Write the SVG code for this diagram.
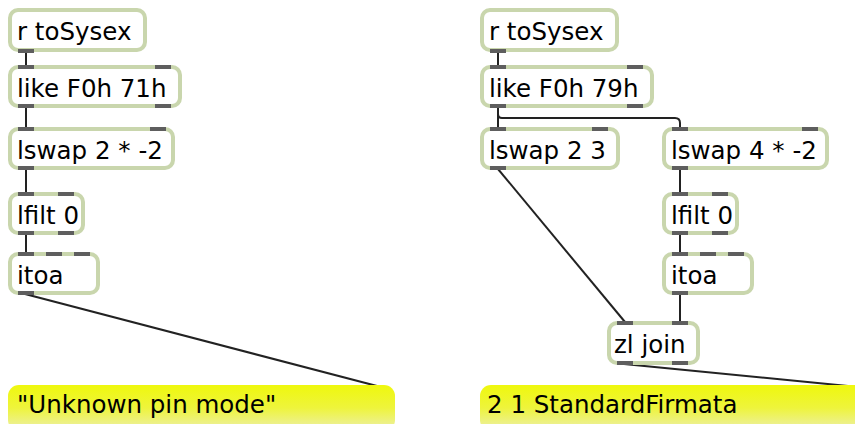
<svg xmlns="http://www.w3.org/2000/svg" width="855" height="424" viewBox="0 0 855 424">
<defs>
<style>
.box{fill:#ffffff;stroke:#c9d6ad;stroke-width:4}
.port{fill:#5e5e5e}
.txt{font-family:"DejaVu Sans",Verdana,sans-serif;font-size:24.5px;fill:#000000}
.msg{fill:url(#yel)}
.cord{stroke:#222222;stroke-width:2;fill:none}
</style>
<linearGradient id="yel" x1="0" y1="0" x2="0" y2="1">
<stop offset="0" stop-color="#eff80d"/>
<stop offset="0.5" stop-color="#eef43c"/>
<stop offset="1" stop-color="#ecefae"/>
</linearGradient>
</defs>
<rect width="855" height="424" fill="#ffffff"/>

<g id="connectors">
<line class="cord" x1="26" y1="52" x2="26" y2="66"/>
<line class="cord" x1="26" y1="107" x2="26" y2="128"/>
<line class="cord" x1="26" y1="169" x2="26" y2="193"/>
<line class="cord" x1="26" y1="234" x2="26" y2="253"/>
<line class="cord" x1="25" y1="294" x2="377" y2="386"/>
<line class="cord" x1="498" y1="52" x2="498" y2="66"/>
<line class="cord" x1="498" y1="107" x2="498" y2="128"/>
<path class="cord" d="M498,107 V114 Q498,118 502,118 H675 Q680,118 680,123 V128"/>
<line class="cord" x1="498" y1="169" x2="625" y2="322"/>
<line class="cord" x1="680" y1="169" x2="680" y2="193"/>
<line class="cord" x1="680" y1="234" x2="680" y2="253"/>
<line class="cord" x1="680" y1="294" x2="680" y2="322"/>
<line class="cord" x1="624" y1="364" x2="848" y2="386"/>
</g>

<g id="L-rtoSysex">
<rect class="box" x="10" y="10" width="135" height="40" rx="8"/>
<rect class="port" x="18" y="49" width="16" height="4"/>
<text class="txt" x="17" y="40">r toSysex</text>
</g>
<g id="L-like">
<rect class="box" x="10" y="67" width="170" height="39" rx="8"/>
<rect class="port" x="18" y="65" width="16" height="4"/>
<rect class="port" x="155" y="65" width="16" height="4"/>
<rect class="port" x="18" y="104" width="16" height="4"/>
<rect class="port" x="155" y="104" width="16" height="4"/>
<text class="txt" x="17" y="97">like F0h 71h</text>
</g>
<g id="L-lswap">
<rect class="box" x="10" y="129" width="163" height="39" rx="8"/>
<rect class="port" x="18" y="127" width="16" height="4"/>
<rect class="port" x="150" y="127" width="16" height="4"/>
<rect class="port" x="18" y="166" width="16" height="4"/>
<text class="txt" x="17" y="159">lswap 2 * -2</text>
</g>
<g id="L-lfilt">
<rect class="box" x="10" y="194" width="73" height="39" rx="8"/>
<rect class="port" x="18" y="192" width="16" height="4"/>
<rect class="port" x="58" y="192" width="16" height="4"/>
<rect class="port" x="18" y="231" width="16" height="4"/>
<rect class="port" x="58" y="231" width="16" height="4"/>
<text class="txt" x="17" y="224">lfilt 0</text>
</g>
<g id="L-itoa">
<rect class="box" x="10" y="254" width="88" height="39" rx="8"/>
<rect class="port" x="18" y="252" width="16" height="4"/>
<rect class="port" x="46" y="252" width="16" height="4"/>
<rect class="port" x="74" y="252" width="16" height="4"/>
<rect class="port" x="18" y="291" width="16" height="4"/>
<text class="txt" x="17" y="284">itoa</text>
</g>
<g id="L-msg">
<rect class="msg" x="8" y="385" width="387" height="46" rx="11"/>
<text class="txt" x="17" y="413">"Unknown pin mode"</text>
</g>

<g id="R-rtoSysex">
<rect class="box" x="482" y="10" width="135" height="40" rx="8"/>
<rect class="port" x="490" y="49" width="16" height="4"/>
<text class="txt" x="489" y="40">r toSysex</text>
</g>
<g id="R-like">
<rect class="box" x="482" y="67" width="170" height="39" rx="8"/>
<rect class="port" x="490" y="65" width="16" height="4"/>
<rect class="port" x="627" y="65" width="16" height="4"/>
<rect class="port" x="490" y="104" width="16" height="4"/>
<rect class="port" x="627" y="104" width="16" height="4"/>
<text class="txt" x="489" y="97">like F0h 79h</text>
</g>
<g id="R-lswap23">
<rect class="box" x="482" y="129" width="136" height="39" rx="8"/>
<rect class="port" x="490" y="127" width="16" height="4"/>
<rect class="port" x="592" y="127" width="16" height="4"/>
<rect class="port" x="490" y="166" width="16" height="4"/>
<text class="txt" x="489" y="159">lswap 2 3</text>
</g>
<g id="R-lswap4">
<rect class="box" x="664" y="129" width="163" height="39" rx="8"/>
<rect class="port" x="672" y="127" width="16" height="4"/>
<rect class="port" x="802" y="127" width="16" height="4"/>
<rect class="port" x="672" y="166" width="16" height="4"/>
<text class="txt" x="671" y="159">lswap 4 * -2</text>
</g>
<g id="R-lfilt">
<rect class="box" x="664" y="194" width="73" height="39" rx="8"/>
<rect class="port" x="672" y="192" width="16" height="4"/>
<rect class="port" x="712" y="192" width="16" height="4"/>
<rect class="port" x="672" y="231" width="16" height="4"/>
<rect class="port" x="712" y="231" width="16" height="4"/>
<text class="txt" x="671" y="224">lfilt 0</text>
</g>
<g id="R-itoa">
<rect class="box" x="664" y="254" width="88" height="39" rx="8"/>
<rect class="port" x="672" y="252" width="16" height="4"/>
<rect class="port" x="700" y="252" width="16" height="4"/>
<rect class="port" x="728" y="252" width="16" height="4"/>
<rect class="port" x="672" y="291" width="16" height="4"/>
<text class="txt" x="671" y="284">itoa</text>
</g>
<g id="R-zljoin">
<rect class="box" x="609" y="323" width="89" height="40" rx="8"/>
<rect class="port" x="617" y="321" width="16" height="4"/>
<rect class="port" x="672" y="321" width="16" height="4"/>
<rect class="port" x="617" y="361" width="16" height="4"/>
<rect class="port" x="672" y="361" width="16" height="4"/>
<text class="txt" x="614" y="353">zl join</text>
</g>
<g id="R-msg">
<rect class="msg" x="480" y="385" width="400" height="46" rx="11"/>
<text class="txt" x="487" y="413">2 1 StandardFirmata</text>
</g>
</svg>
